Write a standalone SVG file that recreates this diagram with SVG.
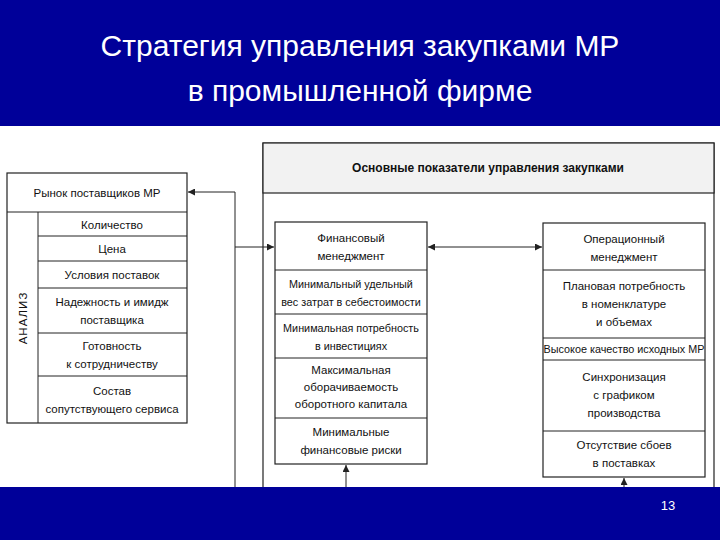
<svg xmlns="http://www.w3.org/2000/svg" width="720" height="540" viewBox="0 0 720 540">
<style>
.b{fill:#fff;stroke:#222;stroke-width:1.2}
.t{font-family:"Liberation Sans",Arial,sans-serif;font-size:11.5px;fill:#111;text-anchor:middle}
.s{font-size:10.8px}
.h{font-family:"Liberation Sans",Arial,sans-serif;font-size:30px;fill:#fff;text-anchor:middle}
.c{fill:none;stroke:#222;stroke-width:1}
</style>
<defs><marker id="a" viewBox="0 0 10 10" refX="10" refY="5" markerWidth="7" markerHeight="7" orient="auto-start-reverse"><path d="M0,0L10,5L0,10z" fill="#222"/></marker></defs>
<rect width="720" height="540" fill="#fff"/>
<rect width="720" height="126" fill="#000099"/>
<text class="h" x="360" y="56">Стратегия управления закупками МР</text>
<text class="h" x="360" y="101">в промышленной фирме</text>
<g id="main"><path class="b" d="M263,487V143H714V487" /><rect x="263" y="143" width="451" height="50" fill="#f2f2f2" stroke="#222" stroke-width="1.2"/>
<text class="t" x="488" y="172" style="font-weight:bold;font-size:12px">Основные показатели управления закупками</text></g>
<g id="left">
<rect class="b" x="7" y="173" width="180" height="250"/>
<line class="c" x1="7" y1="212" x2="187" y2="212"/><line class="c" x1="38" y1="212" x2="38" y2="423"/>
<text class="t" x="97" y="197">Рынок поставщиков МР</text>
<text class="t" transform="translate(27,318) rotate(-90)" style="letter-spacing:1px">АНАЛИЗ</text>
<path class="c" d="M38,236H187M38,261H187M38,288H187M38,333H187M38,376H187"/>
<text class="t" x="112" y="229">Количество</text>
<text class="t" x="112" y="253">Цена</text>
<text class="t" x="112" y="279">Условия поставок</text>
<text class="t" x="112" y="306">Надежность и имидж</text><text class="t" x="112" y="324">поставщика</text>
<text class="t" x="112" y="350">Готовность</text><text class="t" x="112" y="368">к сотрудничеству</text>
<text class="t" x="112" y="395">Состав</text><text class="t" x="112" y="413">сопутствующего сервиса</text>
</g>
<g id="fin">
<rect class="b" x="275" y="222" width="152" height="242"/>
<path class="c" d="M275,270H427M275,314H427M275,358H427M275,418H427"/>
<text class="t" x="351" y="242">Финансовый</text><text class="t" x="351" y="260">менеджмент</text>
<text class="t s" x="351" y="288">Минимальный удельный</text><text class="t s" x="351" y="306">вес затрат в себестоимости</text>
<text class="t s" x="351" y="332">Минимальная потребность</text><text class="t s" x="351" y="350">в инвестициях</text>
<text class="t" x="351" y="374">Максимальная</text><text class="t" x="351" y="391">оборачиваемость</text><text class="t" x="351" y="408">оборотного капитала</text>
<text class="t" x="351" y="436">Минимальные</text><text class="t" x="351" y="454">финансовые риски</text>
</g>
<g id="op">
<rect class="b" x="543" y="223" width="162" height="254"/>
<path class="c" d="M543,270H705M543,338H705M543,360H705M543,431H705"/>
<text class="t" x="624" y="243">Операционный</text><text class="t" x="624" y="261">менеджмент</text>
<text class="t" x="624" y="290">Плановая потребность</text><text class="t" x="624" y="308">в номенклатуре</text><text class="t" x="624" y="326">и объемах</text>
<text class="t s" x="624" y="353">Высокое качество исходных МР</text>
<text class="t" x="624" y="381">Синхронизация</text><text class="t" x="624" y="399">с графиком</text><text class="t" x="624" y="417">производства</text>
<text class="t" x="624" y="449">Отсутствие сбоев</text><text class="t" x="624" y="467">в поставках</text>
</g>
<g id="connectors">
<path class="c" d="M235,487V192H188" marker-end="url(#a)"/>
<path class="c" d="M235,247H274" marker-end="url(#a)"/>
<path class="c" d="M428,247H542" marker-start="url(#a)" marker-end="url(#a)"/>
<path class="c" d="M346,487V465" marker-end="url(#a)"/>
<path class="c" d="M624,487V478" marker-end="url(#a)"/>
</g>
<rect y="487" width="720" height="53" fill="#000099"/>
<text x="668" y="510" style="font-family:'Liberation Sans',Arial,sans-serif;font-size:13px;fill:#fff" text-anchor="middle">13</text>
</svg>
